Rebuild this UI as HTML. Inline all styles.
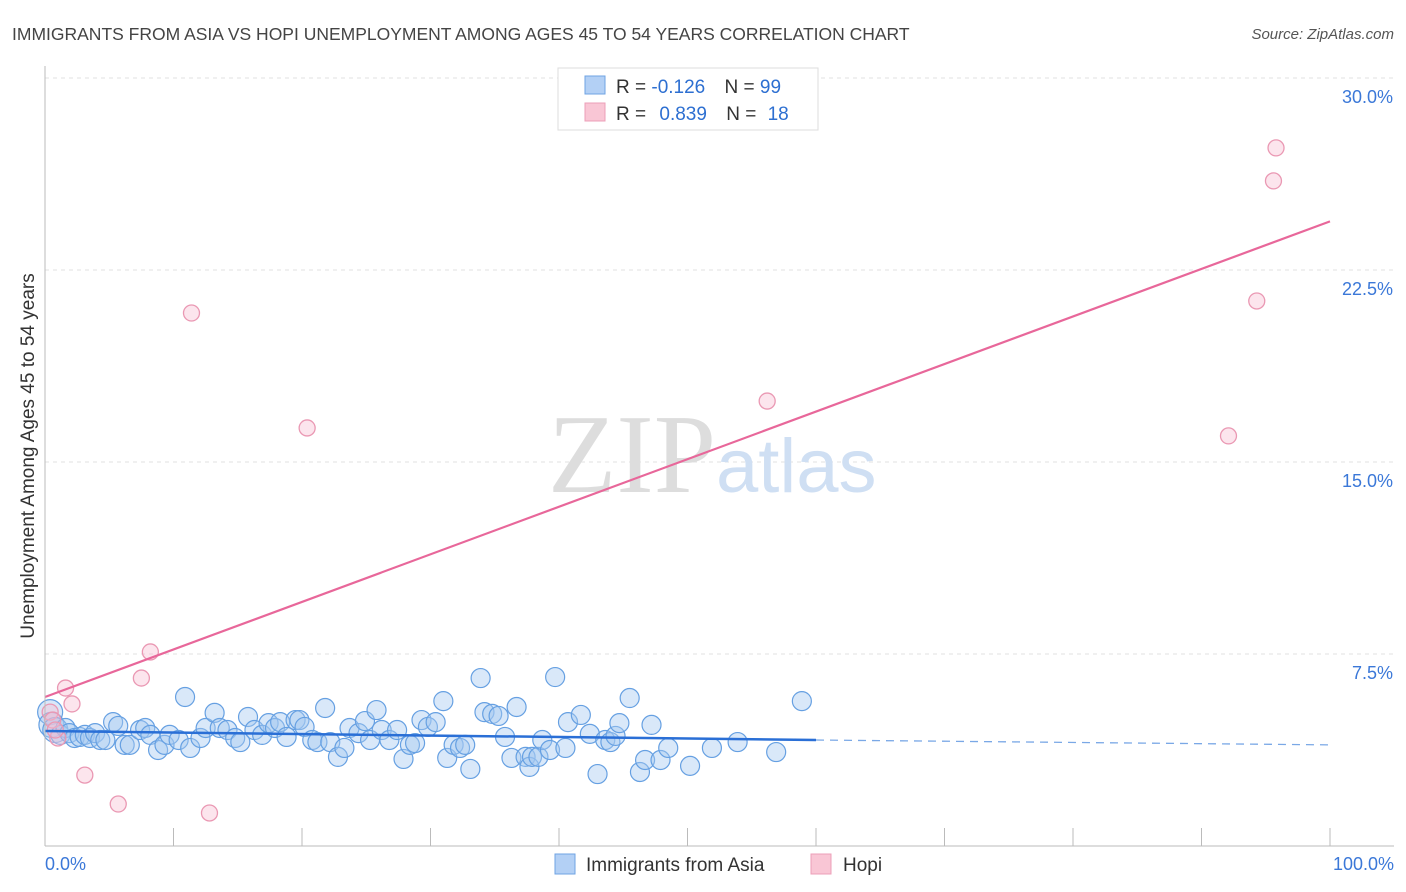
<!DOCTYPE html>
<html><head><meta charset="utf-8"><style>
body{margin:0;background:#fff;font-family:"Liberation Sans",sans-serif}
#c{position:absolute;left:0;top:0}
</style></head><body>
<svg id="c" width="1406" height="892" xmlns="http://www.w3.org/2000/svg">
<text x="12" y="40" font-size="17.5" fill="#444">IMMIGRANTS FROM ASIA VS HOPI UNEMPLOYMENT AMONG AGES 45 TO 54 YEARS CORRELATION CHART</text>
<text x="1394" y="39" font-size="15" fill="#555" font-style="italic" text-anchor="end">Source: ZipAtlas.com</text>
<text x="34" y="456" font-size="19" fill="#333" text-anchor="middle" transform="rotate(-90 34 456)">Unemployment Among Ages 45 to 54 years</text>
<g id="grid"></g>
<text x="716" y="492" font-size="112" fill="#ddd" text-anchor="end" font-family="Liberation Serif,serif">ZIP</text>
<text x="716" y="492" font-size="76" fill="#cfdff3">atlas</text>
<g id="marks"></g>
<g id="axes"></g>
<g>
<rect x="558" y="68" width="260" height="62" fill="#fff" stroke="#ddd"/>
<rect x="585" y="76" width="20" height="18" fill="#b3d0f5" stroke="#6fa3e3"/>
<rect x="585" y="103" width="20" height="18" fill="#f9c6d5" stroke="#ec9fb8"/>
<text x="616" y="93" font-size="19" fill="#333">R = <tspan fill="#2d6fd1">-0.126</tspan>  <tspan dx="14">N = </tspan><tspan fill="#2d6fd1">99</tspan></text>
<text x="616" y="120" font-size="19" fill="#333">R = <tspan fill="#2d6fd1" dx="8">0.839</tspan>  <tspan dx="14">N = </tspan><tspan fill="#2d6fd1" dx="6">18</tspan></text>
</g>
<g>
<rect x="555" y="854" width="20" height="20" fill="#b3d0f5" stroke="#6fa3e3"/>
<text x="586" y="871" font-size="19" fill="#333">Immigrants from Asia</text>
<rect x="811" y="854" width="20" height="20" fill="#f9c6d5" stroke="#ec9fb8"/>
<text x="843" y="871" font-size="19" fill="#333">Hopi</text>
</g>
</svg>
<script>
const yTicks=[7.5,15,22.5,30];
const yTickLabels=["7.5%","15.0%","22.5%","30.0%"];
const asiaX=[0.4,0.5,0.8,1.2,1.6,1.9,2.3,2.7,3.1,3.5,3.9,4.3,4.7,5.3,5.7,6.2,6.6,7.4,7.8,8.2,8.8,9.3,9.7,10.4,10.9,11.3,12.1,12.5,13.2,13.6,14.2,14.8,15.2,15.8,16.3,16.9,17.4,17.9,18.3,18.8,19.5,19.8,20.2,20.8,21.2,21.8,22.2,22.8,23.3,23.7,24.4,24.9,25.3,25.8,26.2,26.8,27.4,27.9,28.4,28.8,29.3,29.8,30.4,31.0,31.3,31.8,32.3,32.7,33.1,33.9,34.2,34.8,35.3,35.8,36.3,36.7,37.4,37.7,37.9,38.4,38.7,39.3,39.7,40.5,40.7,41.7,42.4,43.0,43.6,44.0,44.4,44.7,45.5,46.3,46.7,47.2,47.9,48.5,50.2,51.9,53.9,56.9,58.9];
const asiaY=[5.23,4.73,4.53,4.34,4.61,4.41,4.22,4.26,4.34,4.22,4.41,4.14,4.14,4.84,4.69,3.95,3.95,4.53,4.61,4.34,3.75,3.95,4.34,4.14,5.82,3.83,4.22,4.61,5.2,4.61,4.53,4.22,4.06,5.04,4.53,4.34,4.8,4.61,4.84,4.26,4.92,4.92,4.65,4.14,4.06,5.39,4.06,3.48,3.83,4.61,4.41,4.88,4.14,5.31,4.53,4.14,4.53,3.4,3.95,4.02,4.92,4.65,4.84,5.66,3.44,3.95,3.83,3.95,3.01,6.56,5.23,5.16,5.08,4.26,3.44,5.43,3.48,3.09,3.48,3.48,4.14,3.75,6.6,3.83,4.84,5.12,4.38,2.81,4.14,4.06,4.3,4.8,5.78,2.89,3.36,4.73,3.36,3.83,3.13,3.83,4.06,3.67,5.66];
const hopiX=[0.4,0.6,1.0,1.6,2.1,3.1,5.7,7.5,8.2,11.4,12.8,20.4,56.2,92.1,94.3,95.6,95.8,0.8];
const hopiY=[5.23,4.92,4.22,6.17,5.55,2.77,1.64,6.56,7.58,20.82,1.29,16.33,17.38,16.02,21.29,25.98,27.27,4.53];
const asiaTrend=[4.49,4.14,3.95]; // at x=0, 60, 100
const hopiTrend=[5.82,24.4]; // at x=0, 100
const X0=45,X1=1330,Y0=846,PY=192/7.5;
const sx=v=>X0+(X1-X0)*v/100, sy=v=>Y0-v*PY;
const NS="http://www.w3.org/2000/svg";
function mk(tag,attrs,parent){const e=document.createElementNS(NS,tag);for(const k in attrs)e.setAttribute(k,attrs[k]);parent.appendChild(e);return e;}
const grid=document.getElementById('grid'),axes=document.getElementById('axes'),marks=document.getElementById('marks');
yTicks.forEach((t,i)=>{
  const l=mk('line',{x1:X0,x2:1394,y1:sy(t),y2:sy(t),stroke:'#e2e2e2','stroke-dasharray':'4 4'},grid);
  
  
  const tx=mk('text',{x:1393,y:sy(t)+25,'font-size':18,fill:'#3b78d8','text-anchor':'end'},axes);
  tx.textContent=yTickLabels[i];
  
  
});
const ya=mk('line',{x1:X0,x2:X0,y1:66,y2:Y0,stroke:'#bbb'},axes);


const xa=mk('line',{x1:X0,x2:1394,y1:Y0,y2:Y0,stroke:'#bbb'},axes);


for(let i=1;i<=10;i++){
  const tk=mk('line',{x1:sx(i*10),x2:sx(i*10),y1:828,y2:Y0,stroke:'#bbb'},axes);
  
  
}
[["0.0%",45,'start'],["100.0%",1394,'end']].forEach(a=>{
  const t=mk('text',{x:a[1],y:870,'font-size':18,fill:'#3b78d8','text-anchor':a[2]},axes);
  t.textContent=a[0];
  
  
});
asiaX.forEach((x,i)=>{
  const c=mk('circle',{cx:sx(x),cy:sy(asiaY[i]),r:(x<1?12.5:9.5),fill:'rgba(165,199,240,0.42)',stroke:'#66a0e2','stroke-width':1.2},marks);
  
  
});
hopiX.forEach((x,i)=>{
  const c=mk('circle',{cx:sx(x),cy:sy(hopiY[i]),r:8,fill:'rgba(248,190,210,0.4)',stroke:'#ea98b3','stroke-width':1.3},marks);
  
  
});
const hl=mk('line',{x1:sx(0),y1:sy(hopiTrend[0]),x2:sx(100),y2:sy(hopiTrend[1]),stroke:'#e8679a','stroke-width':2.2},marks);


const al=mk('line',{x1:sx(0),y1:sy(asiaTrend[0]),x2:sx(60),y2:sy(asiaTrend[1]),stroke:'#2a6fd6','stroke-width':2.5},marks);


const ad=mk('line',{x1:sx(60),y1:sy(asiaTrend[1]),x2:sx(100),y2:sy(asiaTrend[2]),stroke:'#7aa8e6','stroke-width':1.3,'stroke-dasharray':'8 6'},marks);


</script>
</body></html>
